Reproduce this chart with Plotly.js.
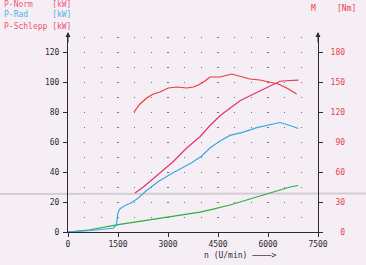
<!DOCTYPE html>
<html><head><meta charset="utf-8">
<script src="https://cdn.plot.ly/plotly-3.0.1.min.js"></script>
<style>html,body{margin:0;padding:0;background:#f5eff5}</style>
</head><body><div id="chart" style="width:366px;height:265px"></div>
<script>
// P-Norm [kW]
const rpmNorm = [2010, 2260, 2660, 3160, 3560, 3960, 4260, 4560, 4860, 5160, 5460, 5760, 6060, 6360, 6660, 6910];
const pNorm   = [26, 30, 37.5, 47, 56, 63.5, 71, 77.5, 82.5, 87.5, 90.8, 94, 97.5, 100.5, 101, 101.3];
// P-Rad [kW]
const rpmRad = [0, 700, 1350, 1450, 1500, 1560, 1700, 1900, 2100, 2350, 2700, 3150, 3700, 4000, 4260, 4560, 4860, 5260, 5660, 6060, 6360, 6660, 6910];
const pRad   = [0, 1, 2.5, 4.5, 13, 15.5, 17.5, 19.5, 22.5, 27.5, 33.5, 39.5, 46, 50.5, 56, 60.6, 64.4, 66.6, 69.6, 71.8, 73, 71, 69];
// P-Schlepp [kW]
const rpmSchlepp = [0, 660, 1460, 2260, 3160, 3660, 3960, 4260, 4860, 5460, 6060, 6660, 6910];
const pSchlepp   = [0, 1.5, 4.7, 7.4, 10.3, 11.8, 13.3, 14.8, 18, 22, 26, 30, 31];
// M [Nm]
const rpmM = [1980, 2160, 2360, 2560, 2760, 3010, 3260, 3560, 3760, 3910, 4110, 4260, 4460, 4560, 4910, 5160, 5460, 5760, 6060, 6310, 6560, 6860];
const torque = [120, 128, 134, 138, 140, 144, 145, 144, 145, 147, 151, 155, 155, 155, 158, 156, 153, 152, 150, 148, 144, 138];

const xTicks = [0, 1500, 3000, 4500, 6000, 7500];
const kwTicks = [0, 20, 40, 60, 80, 100, 120];
const nmTicks = [0, 30, 60, 90, 120, 150, 180];
const nmLabels = ['\u00a0\u00a00', '\u00a030', '\u00a060', '\u00a090', '120', '150', '180'];

const MONO = 'DejaVu Sans Mono';
const AX = '#2e2a30';
const RED = '#e8404a';

const traces = [
  {x: rpmSchlepp, y: pSchlepp, mode: 'lines', line: {color: '#2fae3c', width: 1.2}, name: 'P-Schlepp'},
  {x: rpmRad, y: pRad, mode: 'lines', line: {color: '#3aa8e0', width: 1.2}, name: 'P-Rad'},
  {x: rpmNorm, y: pNorm, mode: 'lines', line: {color: '#e8306a', width: 1.2}, name: 'P-Norm'},
  {x: rpmM, y: torque, mode: 'lines', yaxis: 'y2', line: {color: '#ea3a3a', width: 1.2}, name: 'M'}
];

const gridStyle = {gridcolor: '#7a7080', gridwidth: 1.4, griddash: '1.4px,13.6px'};

const layout = {
  width: 366, height: 265,
  margin: {l: 68, r: 48, t: 37, b: 33, pad: 0},
  paper_bgcolor: '#f5eff5', plot_bgcolor: '#f5eff5',
  showlegend: false,
  font: {family: MONO, size: 8, color: AX},
  xaxis: {
    range: [0, 7500], tickvals: xTicks, ticktext: xTicks.map(String),
    showline: true, linecolor: AX, linewidth: 1, mirror: false,
    ticks: 'outside', ticklen: 4, tickcolor: AX, tickwidth: 1,
    tickfont: {family: MONO, size: 8, color: AX},
    showgrid: true, ...gridStyle, zeroline: false,
    minor: {dtick: 500, tick0: 0, showgrid: true, ...gridStyle, ticks: ''}
  },
  yaxis: {
    range: [0, 130], tickvals: kwTicks, ticktext: kwTicks.map(String),
    showline: true, linecolor: AX, linewidth: 1,
    ticks: 'outside', ticklen: 4, tickcolor: AX,
    tickfont: {family: MONO, size: 8, color: AX}, ticklabelstandoff: 2,
    showgrid: false, zeroline: false
  },
  yaxis2: {
    overlaying: 'y', side: 'right', range: [0, 195],
    tickvals: nmTicks, ticktext: nmLabels,
    showline: true, linecolor: AX, linewidth: 1,
    ticks: 'outside', ticklen: 4, tickcolor: AX,
    tickfont: {family: MONO, size: 8, color: RED}, ticklabelstandoff: 6,
    showgrid: false, zeroline: false
  },
  shapes: [
    {type: 'line', xref: 'paper', yref: 'paper', x0: -0.272, x1: 1.192, y0: 0.195, y1: 0.197,
     line: {color: 'rgba(150,140,150,0.35)', width: 2}, layer: 'below'}
  ],
  annotations: [
    {xref: 'paper', yref: 'paper', x: -0.264, y: 1.169, xanchor: 'left', yanchor: 'middle', showarrow: false,
     text: 'P-Norm\u00a0\u00a0\u00a0\u00a0[kW]', font: {family: MONO, size: 8, color: '#f05a80'}},
    {xref: 'paper', yref: 'paper', x: -0.264, y: 1.113, xanchor: 'left', yanchor: 'middle', showarrow: false,
     text: 'P-Rad\u00a0\u00a0\u00a0\u00a0\u00a0[kW]', font: {family: MONO, size: 8, color: '#4cb4e6'}},
    {xref: 'paper', yref: 'paper', x: -0.264, y: 1.056, xanchor: 'left', yanchor: 'middle', showarrow: false,
     text: 'P-Schlepp\u00a0[kW]', font: {family: MONO, size: 8, color: '#f05070'}},
    {xref: 'paper', yref: 'paper', x: 0.98, y: 1.144, xanchor: 'center', yanchor: 'middle', showarrow: false,
     text: 'M', font: {family: MONO, size: 8, color: RED}},
    {xref: 'paper', yref: 'paper', x: 1.112, y: 1.144, xanchor: 'center', yanchor: 'middle', showarrow: false,
     text: '[Nm]', font: {family: MONO, size: 8, color: RED}},
    {xref: 'paper', yref: 'paper', x: 0.536, y: -0.123, xanchor: 'left', yanchor: 'middle', showarrow: false,
     text: 'n (U/min) \u2500\u2500\u2500\u2500>', font: {family: MONO, size: 8, color: AX}},
    {xref: 'paper', yref: 'paper', x: 0, y: 1.026, ax: 0, ay: 12, showarrow: true, text: '',
     arrowhead: 2, arrowsize: 1, arrowwidth: 1, arrowcolor: AX},
    {xref: 'paper', yref: 'paper', x: 1, y: 1.026, ax: 0, ay: 12, showarrow: true, text: '',
     arrowhead: 2, arrowsize: 1, arrowwidth: 1, arrowcolor: AX}
  ]
};

Plotly.newPlot('chart', traces, layout, {staticPlot: true, displayModeBar: false});
</script></body></html>
